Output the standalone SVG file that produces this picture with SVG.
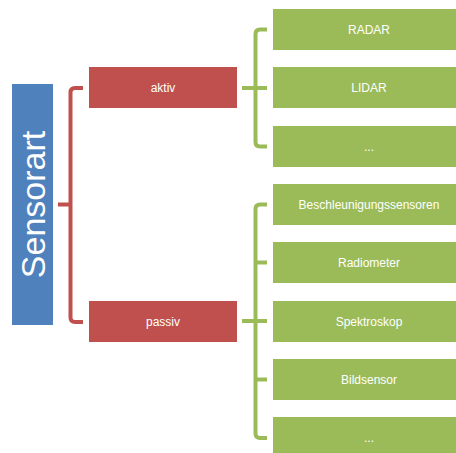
<svg xmlns="http://www.w3.org/2000/svg" width="456" height="453" viewBox="0 0 456 453">
  <style>
    .lbl { font-family: "Liberation Sans", Arial, sans-serif; font-size: 12px; fill: #ffffff; text-anchor: middle; dominant-baseline: central; }
    .root { fill: #4f81bd; }
    .mid { fill: #c0504d; }
    .leaf { fill: #9bbb59; }
    .c-red { fill: none; stroke: #c0504d; stroke-width: 4; }
    .c-green { fill: none; stroke: #9bbb59; stroke-width: 4; }
  </style>
  <rect width="456" height="453" fill="#ffffff"/>

  <!-- bracket connectors -->
  <g id="connectors">
    <path class="c-red" d="M 83 88 H 75 Q 70.5 88 70.5 92.5 V 317.5 Q 70.5 322 75 322 H 83 M 58 204.5 H 70.5"/>
    <path class="c-green" d="M 267 29.5 H 260 Q 255.5 29.5 255.5 34 V 142 Q 255.5 146.5 260 146.5 H 267 M 242 88 H 267"/>
    <path class="c-green" d="M 267 204.5 H 260 Q 255.5 204.5 255.5 209 V 433.5 Q 255.5 438 260 438 H 267 M 255.5 262.5 H 267 M 242 321 H 267 M 255.5 379.5 H 267"/>
  </g>

  <!-- root -->
  <g id="sensorart">
    <rect class="root" x="12" y="84" width="41" height="241"/>
    <text transform="translate(33 204.5) rotate(-90)" font-family="Liberation Sans, Arial, sans-serif" font-size="34" fill="#ffffff" text-anchor="middle" dominant-baseline="central">Sensorart</text>
  </g>

  <!-- categories -->
  <g id="aktiv">
    <rect class="mid" x="89" y="67" width="148" height="41"/>
    <text class="lbl" x="163" y="87.5">aktiv</text>
  </g>
  <g id="passiv">
    <rect class="mid" x="89" y="301" width="148" height="41"/>
    <text class="lbl" x="163" y="321.5">passiv</text>
  </g>

  <!-- active sensors (boxes run past the right edge) -->
  <g id="radar">
    <rect class="leaf" x="273" y="9" width="192" height="41"/>
    <text class="lbl" x="369" y="29.5">RADAR</text>
  </g>
  <g id="lidar">
    <rect class="leaf" x="273" y="67" width="192" height="41"/>
    <text class="lbl" x="369" y="87.5">LIDAR</text>
  </g>
  <g id="aktiv-more">
    <rect class="leaf" x="273" y="126" width="192" height="41"/>
    <text class="lbl" x="369" y="146.5">...</text>
  </g>

  <!-- passive sensors -->
  <g id="beschleunigung">
    <rect class="leaf" x="273" y="184" width="192" height="41"/>
    <text class="lbl" x="369" y="204.5">Beschleunigungssensoren</text>
  </g>
  <g id="radiometer">
    <rect class="leaf" x="273" y="242" width="192" height="41"/>
    <text class="lbl" x="369" y="262.5">Radiometer</text>
  </g>
  <g id="spektroskop">
    <rect class="leaf" x="273" y="301" width="192" height="41"/>
    <text class="lbl" x="369" y="321.5">Spektroskop</text>
  </g>
  <g id="bildsensor">
    <rect class="leaf" x="273" y="359" width="192" height="41"/>
    <text class="lbl" x="369" y="379.5">Bildsensor</text>
  </g>
  <g id="passiv-more">
    <rect class="leaf" x="273" y="417" width="192" height="41"/>
    <text class="lbl" x="369" y="437.5">...</text>
  </g>
</svg>
